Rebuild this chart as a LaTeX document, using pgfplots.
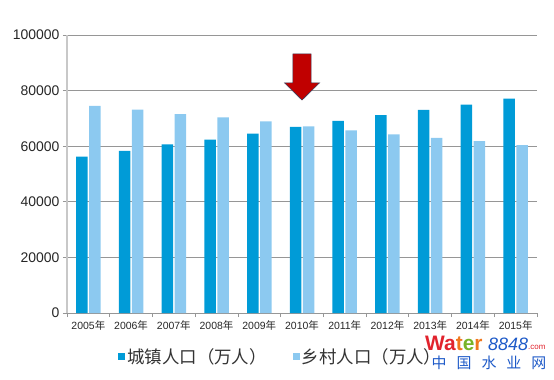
\documentclass[border=0pt]{standalone}
\usepackage{fontspec}
\setmainfont{Liberation Sans}
\newfontfamily\cjk{Noto Sans CJK SC}
\usepackage{pgfplots}
\pgfplotsset{compat=1.18}
\definecolor{urban}{RGB}{0,155,215}
\definecolor{rural}{RGB}{140,201,240}
\definecolor{gridc}{RGB}{150,150,150}
\definecolor{axc}{RGB}{200,200,200}
\definecolor{arrowred}{RGB}{192,0,0}
\definecolor{wmred}{RGB}{225,35,45}
\definecolor{wmorange}{RGB}{240,120,30}
\definecolor{wmgreen}{RGB}{120,180,40}
\definecolor{wmblue}{RGB}{30,90,200}
\begin{document}
\begin{tikzpicture}
\useasboundingbox (-67bp,-67bp) rectangle (487bp,313bp);
\begin{axis}[
  at={(0,0)}, anchor=south west,
  scale only axis, width=470bp, height=278bp,
  ybar=1.5bp, bar width=11.5bp,
  xmin=-0.5, xmax=10.5, ymin=0, ymax=100000,
  xtick={0,...,10},
  xticklabels={2005{\cjk 年},2006{\cjk 年},2007{\cjk 年},2008{\cjk 年},2009{\cjk 年},2010{\cjk 年},2011{\cjk 年},2012{\cjk 年},2013{\cjk 年},2014{\cjk 年},2015{\cjk 年}},
  major x tick style={draw=none},
  minor xtick={-0.5,0.5,...,10.5},
  minor x tick style={gridc, line width=0.8bp},
  minor tick length=4bp,
  ytick={0,20000,...,100000},
  major tick length=4bp,
  tick align=outside,
  ytick pos=left, xtick pos=bottom,
  y tick style={gridc, line width=0.8bp},
  ymajorgrids, grid style={gridc, line width=0.8bp},
  scaled y ticks=false,
  yticklabel style={/pgf/number format/fixed, /pgf/number format/1000 sep={}, /pgf/number format/assume math mode=true, font=\fontsize{14}{16}\selectfont, text=black!85},
  xticklabel style={font=\fontsize{10.5}{12}\selectfont, text=black!85},
  axis x line*=bottom, axis y line*=left,
  x axis line style={-, gridc, line width=0.8bp},
  y axis line style={-, axc, line width=2bp},
  legend style={at={(0.455,-0.158)}, anchor=center, legend columns=2, draw=none, fill=none,
    font=\cjk\fontsize{17.5}{19}\selectfont, text=black!80,
    /tikz/every even column/.append style={column sep=24bp}},
  legend image code/.code={\draw[#1,draw=none] (0bp,-3bp) rectangle (7bp,4bp);},
]
\addplot[fill=urban, draw=none] coordinates {(0,56212) (1,58288) (2,60633) (3,62403) (4,64512) (5,66978) (6,69079) (7,71182) (8,73111) (9,74916) (10,77116)};
\addplot[fill=rural, draw=none] coordinates {(0,74544) (1,73160) (2,71496) (3,70399) (4,68938) (5,67113) (6,65656) (7,64222) (8,62961) (9,61866) (10,60346)};
\legend{城镇人口（万人）,乡村人口（万人）}
\draw[fill=arrowred, draw={rgb,255:red,60;green,60;blue,90}, line width=0.6bp]
  (axis cs:4.785,93200) -- (axis cs:5.215,93200) -- (axis cs:5.215,82800) -- (axis cs:5.41,82800)
  -- (axis cs:5.0,76600) -- (axis cs:4.59,82800) -- (axis cs:4.785,82800) -- cycle;
\end{axis}
\node[anchor=base west, inner sep=0pt, font=\bfseries\fontsize{21}{22}\selectfont] at (358bp,-37bp)
  {\textcolor{wmred}{Wa}\textcolor{wmorange}{t}\textcolor{wmgreen}{e}\textcolor{wmorange}{r}};
\node[anchor=base west, inner sep=0pt, font=\itshape\fontsize{18}{20}\selectfont, text=wmblue] at (421bp,-37bp) {8848};
\node[anchor=base west, inner sep=0pt, font=\fontsize{8}{9}\selectfont, text=wmred] at (461bp,-36bp) {.com};
\node[anchor=center, inner sep=0pt, font=\cjk\fontsize{15}{16}\selectfont, text=wmblue] at (422bp,-50bp)
  {中\hspace{10bp}国\hspace{10bp}水\hspace{10bp}业\hspace{10bp}网};
\end{tikzpicture}
\end{document}
